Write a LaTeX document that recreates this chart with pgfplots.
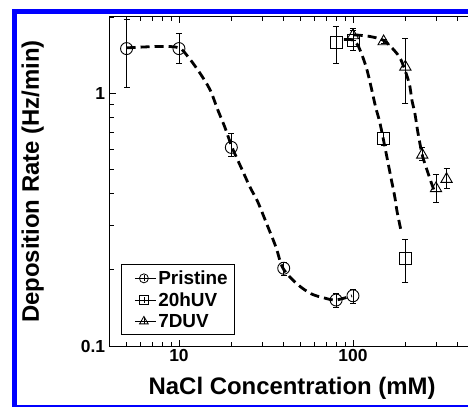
\documentclass[border=0pt]{standalone}
\usepackage{pgfplots}
\pgfplotsset{compat=1.18}
\usepackage{fontspec}
\setmainfont{Liberation Sans}
\begin{document}
\begin{tikzpicture}
\useasboundingbox (0,0) rectangle (468bp,408bp);
\fill[blue] (12bp,1bp) rectangle (17bp,399bp);
\fill[blue] (12bp,394bp) rectangle (470bp,399bp);
\fill[blue] (12bp,1bp) rectangle (470bp,3bp);
\begin{axis}[
  at={(109.7bp,62bp)}, anchor=south west,
  scale only axis, width=364.9bp, height=329bp,
  xmode=log, ymode=log,
  xmin=4, xmax=500, ymin=0.1, ymax=2,
  xtick={10,100}, xticklabels={10,100},
  ytick={0.1,1}, yticklabels={0.1,1},
  minor xtick={4,5,6,7,8,9,20,30,40,50,60,70,80,90,200,300,400},
  minor ytick={0.2,0.3,0.4,0.5,0.6,0.7,0.8,0.9,2},
  major tick length=6bp, minor tick length=4bp,
  every tick/.style={black, line width=0.8bp},
  axis line style={line width=1bp},
  tick label style={font=\fontsize{17.5}{19}\selectfont\bfseries},
  yticklabel style={xshift=-1bp},
  xlabel={NaCl Concentration (mM)},
  ylabel={Deposition Rate (Hz/min)},
  every axis x label/.style={at={(axis description cs:0.5,-0.128)}, anchor=center,
    font=\fontsize{24}{28}\selectfont\bfseries},
  every axis y label/.style={at={(axis description cs:-0.211,0.5)}, anchor=center, rotate=90,
    font=\fontsize{24}{28}\selectfont\bfseries},
  legend image code/.code={
    \path (0bp,0bp);
    \draw[solid, line width=0.8bp, black] (8bp,0bp) -- (29bp,0bp);
    \draw[solid, line width=0.6bp, black] (17bp,-3bp) -- (17bp,3bp);
    \draw[#1] plot coordinates {(17bp,0bp)};
  },
  legend style={at={(axis description cs:0.031,0.033)}, anchor=south west,
    draw=black, line width=1bp, font=\fontsize{19}{20}\selectfont\bfseries,
    row sep=2.5bp, inner xsep=5bp, inner ysep=4bp, cells={anchor=west}},
]
% Pristine
\addplot[forget plot, only marks, mark=o, mark size=6bp, line width=0.9bp,
  error bars/.cd, y dir=both, y explicit,
  error bar style={line width=0.8bp},
  error mark options={rotate=90, mark size=3bp, line width=0.8bp}]
coordinates {
 (5,1.5) += (0,0.46) -= (0,0.45)
 (10,1.5) += (0,0.23) -= (0,0.19)
 (20,0.61) += (0,0.08) -= (0,0.05)
 (40,0.203) += (0,0.012) -= (0,0.012)
 (80,0.152) += (0,0.01) -= (0,0.01)
 (100,0.158) += (0,0.01) -= (0,0.01)
};
% 20hUV
\addplot[forget plot, only marks, mark=square, mark size=6bp, line width=0.9bp,
  error bars/.cd, y dir=both, y explicit,
  error bar style={line width=0.8bp},
  error mark options={rotate=90, mark size=3bp, line width=0.8bp}]
coordinates {
 (80,1.58) += (0,0.26) -= (0,0.27)
 (100,1.62) += (0,0.18) -= (0,0.15)
 (150,0.66) += (0,0.04) -= (0,0.04)
 (200,0.221) += (0,0.044) -= (0,0.042)
};
% 7DUV
\addplot[forget plot, only marks, mark=triangle, mark size=6.5bp, line width=0.9bp,
  error bars/.cd, y dir=both, y explicit,
  error bar style={line width=0.8bp},
  error mark options={rotate=90, mark size=3bp, line width=0.8bp}]
coordinates {
 (100,1.69) += (0,0.08) -= (0,0.08)
 (150,1.6) += (0,0.03) -= (0,0.03)
 (200,1.27) += (0,0.38) -= (0,0.36)
 (250,0.57) += (0,0.04) -= (0,0.03)
 (300,0.42) += (0,0.058) -= (0,0.05)
 (345,0.457) += (0,0.048) -= (0,0.037)
};
% fitted curves
\addplot[forget plot, no marks, smooth, black, line width=2.8bp, dash pattern=on 9bp off 5bp]
coordinates {
 (5.0,1.51) (7.8,1.53) (10,1.51) (11.3,1.39) (13.2,1.20) (15.1,1.03) (16.7,0.86)
 (18.4,0.73) (20.2,0.61) (23.0,0.50) (25.6,0.425) (28.4,0.371) (32.0,0.303)
 (36.1,0.246) (39.6,0.203) (47.7,0.176) (57.4,0.161) (68.1,0.155) (79.8,0.152) (98.6,0.158)
};
\addplot[forget plot, no marks, smooth, black, line width=2.8bp, dash pattern=on 9bp off 5bp]
coordinates {
 (88.7,1.63) (100,1.62) (108,1.52) (119,1.27) (127,1.06) (135,0.88) (143,0.76)
 (155,0.58) (165,0.466) (174,0.388) (179,0.342) (189,0.285)
};
\addplot[forget plot, no marks, smooth, black, line width=2.8bp, dash pattern=on 9bp off 5bp]
coordinates {
 (101,1.70) (122,1.68) (149,1.62) (172,1.48) (189,1.35) (210,1.10) (218,0.94)
 (227,0.83) (236,0.70) (250,0.57) (263,0.51) (281,0.445) (292,0.414)
};
\addlegendimage{mark=o, mark size=4.5bp, line width=0.8bp, black}
\addlegendentry{Pristine}
\addlegendimage{mark=square, mark size=4.5bp, line width=0.8bp, black}
\addlegendentry{20hUV}
\addlegendimage{mark=triangle, mark size=5bp, line width=0.8bp, black}
\addlegendentry{7DUV}
\end{axis}
\end{tikzpicture}
\end{document}
